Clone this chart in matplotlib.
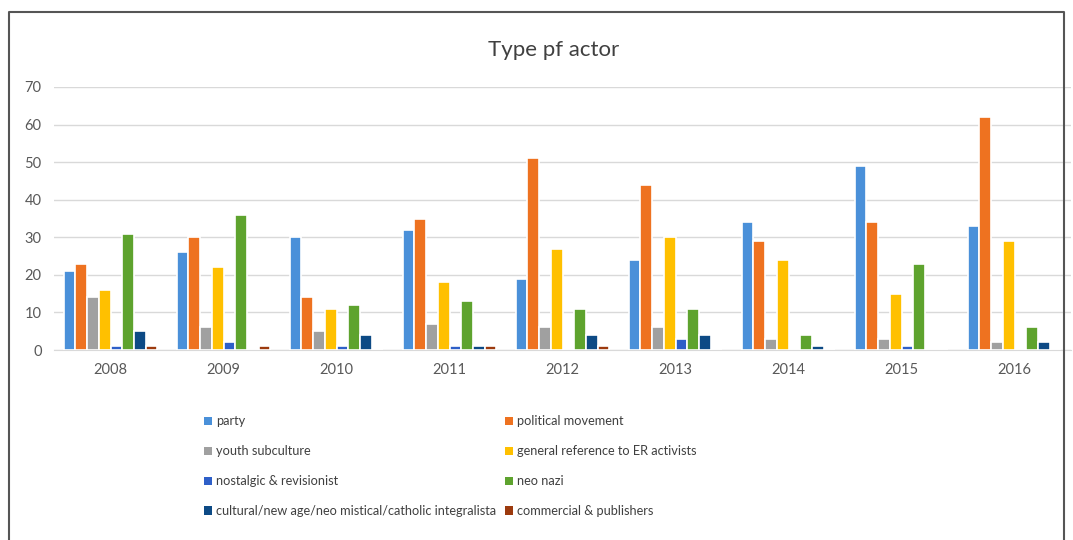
import matplotlib
matplotlib.use("Agg")
import matplotlib.pyplot as plt
import numpy as np
from matplotlib.patches import Patch
from matplotlib.lines import Line2D

years = ["2008", "2009", "2010", "2011", "2012", "2013", "2014", "2015", "2016"]
series_names = ["party", "political movement", "youth subculture",
                "general reference to ER activists", "nostalgic & revisionist",
                "neo nazi", "cultural/new age/neo mistical/catholic integralista",
                "commercial & publishers"]
party = [21, 26, 30, 32, 19, 24, 34, 49, 33]
political_movement = [23, 30, 14, 35, 51, 44, 29, 34, 62]
youth_subculture = [14, 6, 5, 7, 6, 6, 3, 3, 2]
general_reference = [16, 22, 11, 18, 27, 30, 24, 15, 29]
nostalgic = [1, 2, 1, 1, 0, 3, 0, 1, 0]
neo_nazi = [31, 36, 12, 13, 11, 11, 4, 23, 6]
cultural = [5, 0, 4, 1, 4, 4, 1, 0, 2]
commercial = [1, 1, 0, 1, 1, 0, 0, 0, 0]
colors = ["#4A90D9", "#EE7220", "#A0A0A0", "#FFC000", "#2E5FC8", "#5EA32E", "#0D4A85", "#9C3A0E"]

data = [party, political_movement, youth_subculture, general_reference,
        nostalgic, neo_nazi, cultural, commercial]

plt.rcParams['font.family'] = ['Lato', 'DejaVu Sans']
fig = plt.figure(figsize=(10.73, 5.40), dpi=100)
ax = fig.add_axes([54/1073, 1-350/540, 1017/1073, 263/540])

x = np.arange(len(years))
slot = 0.83 / 8
for i, (vals, c) in enumerate(zip(data, colors)):
    ax.bar(x - 0.415 + slot*(i+0.5), vals, width=slot, color=c,
           edgecolor="white", linewidth=1.2, zorder=3)

ax.set_xlim(-0.5, len(years)-0.5)
ax.set_ylim(0, 70)
ax.set_yticks(range(0, 71, 10))
ax.set_xticks(x)
ax.set_xticklabels(years)
ax.grid(axis="y", color="#D9D9D9", linewidth=1, zorder=0)
for s in ["top", "right", "left"]:
    ax.spines[s].set_visible(False)
ax.spines["bottom"].set_color("#D9D9D9")
ax.tick_params(axis="both", length=0, labelsize=10.5, colors="#595959", pad=9)
ax.tick_params(axis="y", pad=9)

fig.text(554/1073, 1-50/540, "Type pf actor", ha="center", va="center",
         fontsize=16, color="#404040")

handles = [Patch(facecolor=c, edgecolor="none") for c in colors]
kw = dict(frameon=False, fontsize=9.2, labelcolor="#404040", handlelength=0.6,
          handleheight=0.6, handletextpad=0.3, labelspacing=1.4, borderpad=0,
          loc="upper left")
leg1 = fig.legend([handles[i] for i in (0, 2, 4, 6)], [series_names[i] for i in (0, 2, 4, 6)],
                  bbox_to_anchor=(198/1073, 1-409/540), **kw)
leg2 = fig.legend([handles[i] for i in (1, 3, 5, 7)], [series_names[i] for i in (1, 3, 5, 7)],
                  bbox_to_anchor=(499/1073, 1-409/540), **kw)

# outer frame (left, top, right edges)
fig.add_artist(Line2D([9/1073, 9/1073, 1064/1073, 1064/1073], [0, 1-12/540, 1-12/540, 0],
                      transform=fig.transFigure, color="#555555", linewidth=1.5))

fig.savefig("out.png", dpi=100)
